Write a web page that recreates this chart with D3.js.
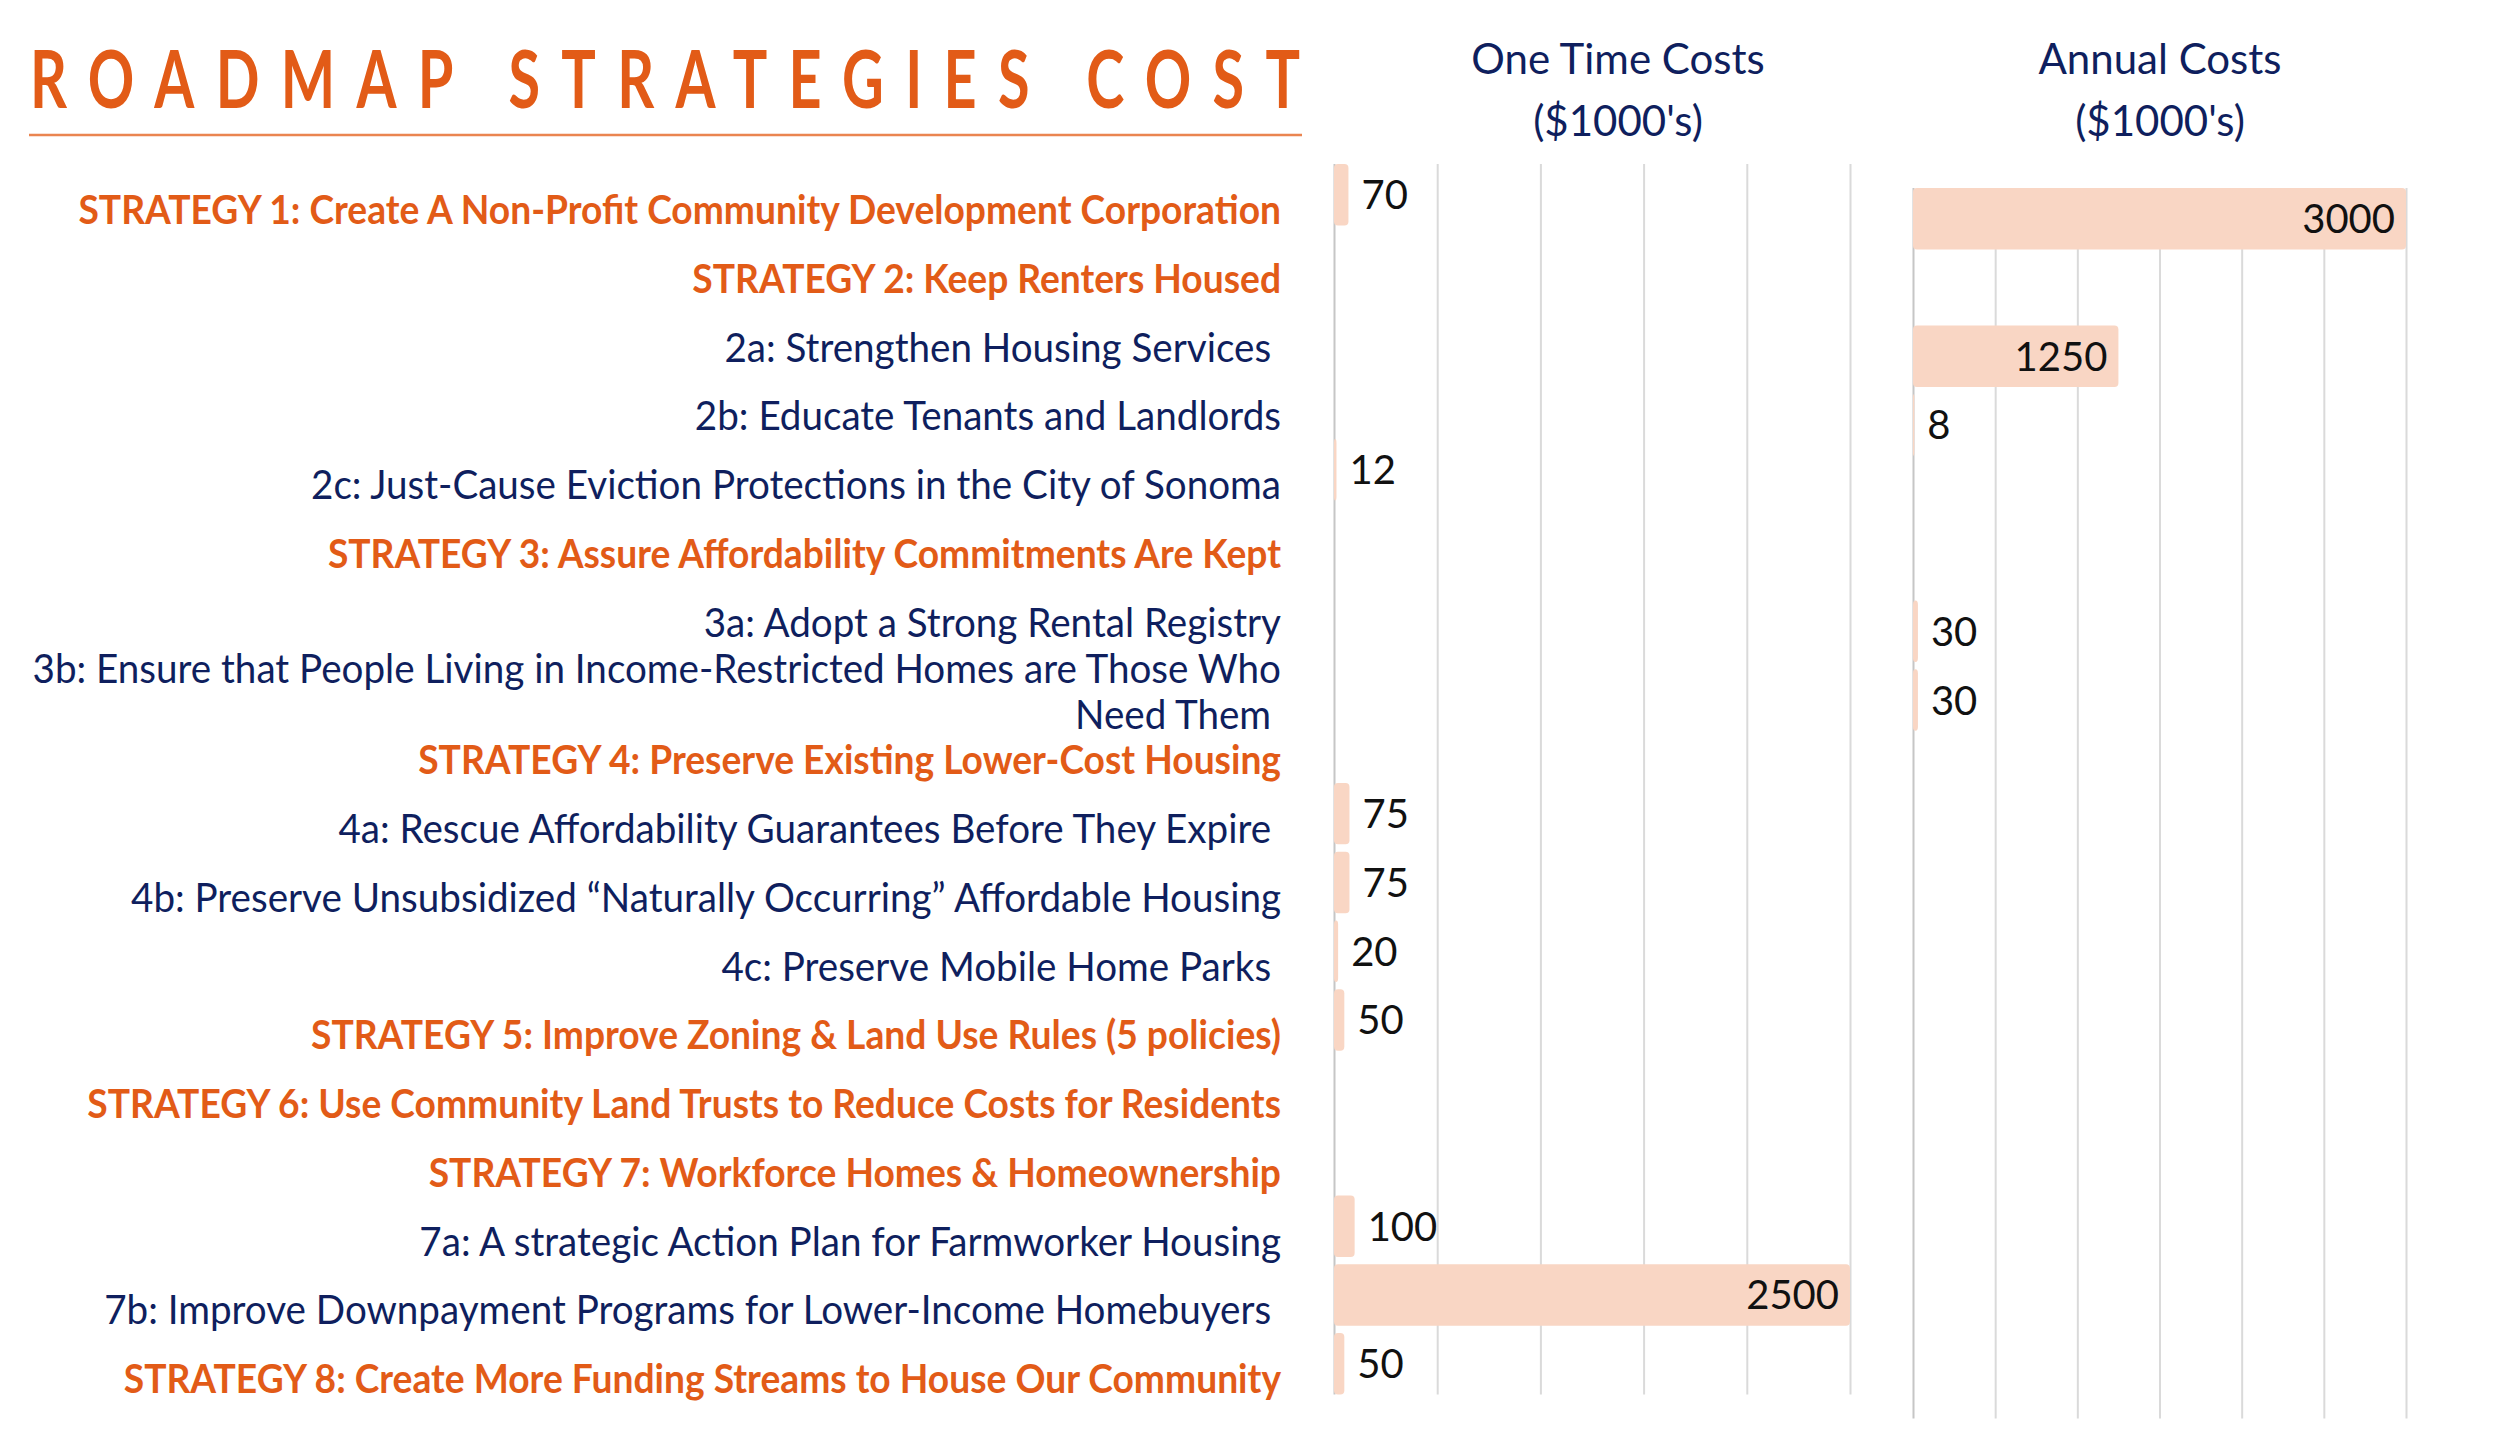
<!DOCTYPE html>
<html><head><meta charset="utf-8">
<script src="https://cdn.jsdelivr.net/npm/d3@7"></script>
<style>
html,body{margin:0;padding:0;background:#fff;}
svg{display:block;}
text{font-family:Lato,'Open Sans',sans-serif;white-space:pre;}
</style></head><body>
<svg id="chart" width="2500" height="1441"></svg>
<script>
// ---------- DATA ----------
const categories = [
  "STRATEGY 1: Create A Non-Profit Community Development Corporation",
  "STRATEGY 2: Keep Renters Housed",
  "2a: Strengthen Housing Services ",
  "2b: Educate Tenants and Landlords",
  "2c: Just-Cause Eviction Protections in the City of Sonoma",
  "STRATEGY 3: Assure Affordability Commitments Are Kept",
  "3a: Adopt a Strong Rental Registry",
  "3b: Ensure that People Living in Income-Restricted Homes are Those Who\nNeed Them ",
  "STRATEGY 4: Preserve Existing Lower-Cost Housing",
  "4a: Rescue Affordability Guarantees Before They Expire ",
  "4b: Preserve Unsubsidized \u201CNaturally Occurring\u201D Affordable Housing",
  "4c: Preserve Mobile Home Parks ",
  "STRATEGY 5: Improve Zoning & Land Use Rules (5 policies)",
  "STRATEGY 6: Use Community Land Trusts to Reduce Costs for Residents",
  "STRATEGY 7: Workforce Homes & Homeownership",
  "7a: A strategic Action Plan for Farmworker Housing",
  "7b: Improve Downpayment Programs for Lower-Income Homebuyers ",
  "STRATEGY 8: Create More Funding Streams to House Our Community"
];
const oneTimeCosts = [70, null, null, null, 12, null, null, null, null, 75, 75, 20, 50, null, null, 100, 2500, 50];
const annualCosts  = [3000, null, 1250, 8, null, null, 30, 30, null, null, null, null, null, null, null, null, null, null];
const oneTimeTicks = [0, 500, 1000, 1500, 2000, 2500];
const annualTicks  = [0, 500, 1000, 1500, 2000, 2500, 3000];
const titleText = "ROADMAP STRATEGIES COST";
const oneTimeHeader = ["One Time Costs", "($1000's)"];
const annualHeader  = ["Annual Costs", "($1000's)"];

// ---------- STYLE / LAYOUT ----------
const COL = {orange:"#E25B17", navy:"#0F1F5E", bar:"#F9D6C4", grid:"#DADADA", axis:"#C6C6C6", rule:"#EA8550", value:"#111111"};
const LABEL_RIGHT = 1281, LABEL_SIZE = 40, COND_BOLD = 0.93, COND_REG = 0.965, LABEL_DY = 15, LINE_H = 46;

const svg = d3.select("#chart");

// ---------- TITLE ----------
(function(){
  const scaleX = 0.72, target = 1270;
  const g = svg.append("g").attr("transform", "translate(30,108) scale(" + scaleX + ",1)");
  const t = g.append("text").text(titleText)
    .attr("font-size", 80).attr("font-weight", 700).attr("fill", COL.orange);
  const nat = t.node().getComputedTextLength();
  const ls = (target / scaleX - nat) / (titleText.length - 1);
  t.style("letter-spacing", ls + "px");
  svg.append("line").attr("x1", 29).attr("x2", 1302).attr("y1", 135).attr("y2", 135)
    .attr("stroke", COL.rule).attr("stroke-width", 2.5);
})();

// ---------- PANELS ----------
function panel(values, ticks, xr, yr, header, headerX) {
  const x = d3.scaleLinear().domain([0, d3.max(ticks)]).range(xr);
  const y = d3.scaleBand().domain(d3.range(categories.length)).range(yr)
    .paddingInner(0.106).paddingOuter(0);
  const g = svg.append("g");

  const grid = g.append("g").attr("transform", "translate(0," + yr[0] + ")")
    .call(d3.axisTop(x).tickValues(ticks).tickSize(-(yr[1] - yr[0])).tickFormat(""));
  grid.select(".domain").remove();
  grid.selectAll(".tick line")
    .attr("stroke", (d) => d === 0 ? COL.axis : COL.grid)
    .attr("stroke-width", 2);

  const data = values.map((v, i) => ({v, i})).filter(d => d.v != null);
  g.selectAll("rect.bar").data(data).join("rect").attr("class", "bar")
    .attr("x", x(0)).attr("y", d => y(d.i))
    .attr("width", d => Math.max(1, x(d.v) - x(0)))
    .attr("height", y.bandwidth())
    .attr("rx", 4).attr("fill", COL.bar);

  g.selectAll("text.val").data(data).join("text").attr("class", "val")
    .attr("x", d => (x(d.v) - x(0) > 100) ? x(d.v) - 11 : x(d.v) + 13)
    .attr("text-anchor", d => (x(d.v) - x(0) > 100) ? "end" : "start")
    .attr("y", d => y(d.i) + y.bandwidth() / 2)
    .attr("dy", "0.36em")
    .attr("font-size", 40).attr("fill", COL.value)
    .text(d => d.v);

  const h = svg.append("text").attr("text-anchor", "middle").attr("fill", COL.navy)
    .attr("font-size", 42);
  h.selectAll("tspan").data(header).join("tspan")
    .attr("x", headerX).attr("y", (d, i) => 74 + i * 62).text(d => d);
  return y;
}

const yLeft = panel(oneTimeCosts, oneTimeTicks, [1334, 1850], [164, 1394.5], oneTimeHeader, 1618);
panel(annualCosts, annualTicks, [1913, 2406], [188, 1418.5], annualHeader, 2160);

// ---------- CATEGORY LABELS ----------
categories.forEach((c, i) => {
  const strat = c.startsWith("STRATEGY");
  const lines = c.split("\n");
  const cy = yLeft(i) + yLeft.bandwidth() / 2 + LABEL_DY;
  lines.forEach((ln, k) => {
    const by = cy + (k - (lines.length - 1) / 2) * LINE_H;
    svg.append("g").attr("transform", "translate(" + LABEL_RIGHT + "," + by + ") scale(" + (strat ? COND_BOLD : COND_REG) + ",1)")
      .append("text").attr("text-anchor", "end").attr("dy", "0.36em")
      .attr("font-size", LABEL_SIZE)
      .attr("font-weight", strat ? 700 : 400)
      .attr("fill", strat ? COL.orange : COL.navy)
      .text(ln);
  });
});
</script>
</body></html>
